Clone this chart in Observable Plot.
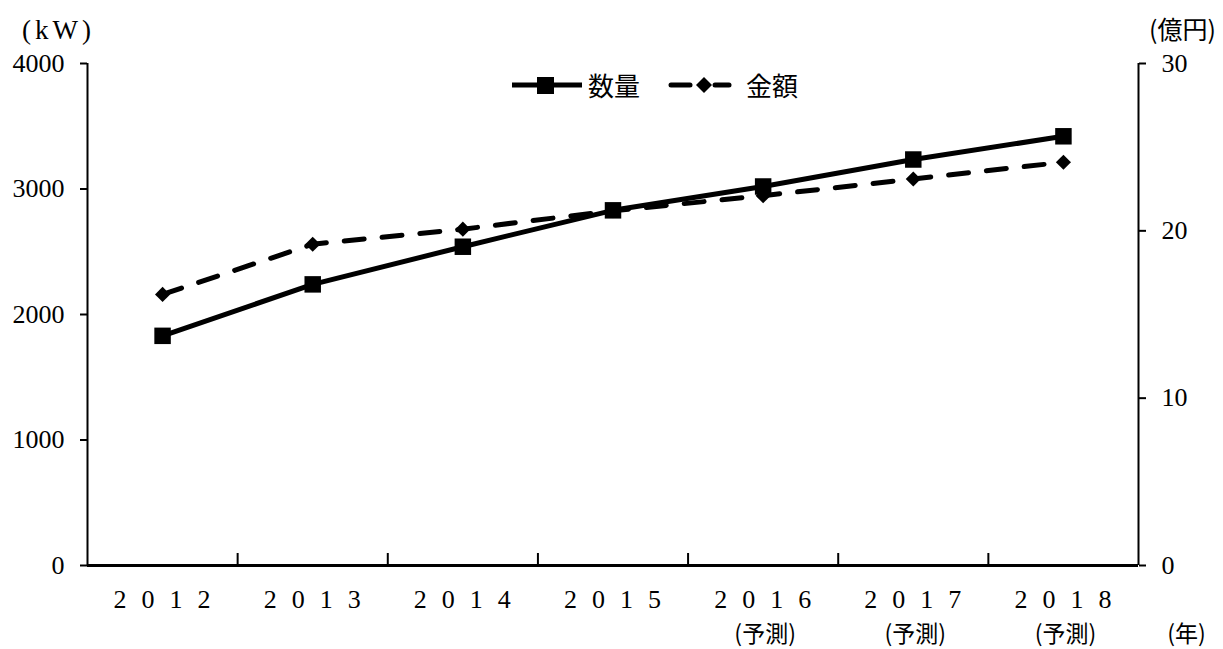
<!DOCTYPE html>
<html><head><meta charset="utf-8">
<script src="https://cdn.jsdelivr.net/npm/d3@7"></script>
<script src="https://cdn.jsdelivr.net/npm/@observablehq/plot@0.6"></script>
<style>
body{margin:0;background:#fff;}
#wrap{position:relative;width:1223px;height:649px;}
#legend{position:absolute;left:510px;top:70px;height:30px;display:flex;align-items:center;font-family:"Noto Sans CJK JP",sans-serif;font-size:26px;color:#000;line-height:30px;}
#legend svg{display:block;}
</style></head><body>
<div id="wrap"><div id="legend"></div></div>
<script>
// ---- data ----
const years = ["2012","2013","2014","2015","2016","2017","2018"];
const forecast = ["","","","","(予測)","(予測)","(予測)"];
const quantity = [1830,2240,2540,2830,3020,3235,3420]; // 数量 (kW)
const amount = [16.2,19.2,20.1,21.2,22.1,23.1,24.1];    // 金額 (億円)
const leftTicks = [0,1000,2000,3000,4000];
const rightTicks = [0,10,20,30];
const seriesNames = ["数量","金額"];
const leftUnit = "(kW)";
const rightUnit = "(億円)";
const xUnit = "(年)";

const kwMax = 4000, yenMax = 30;
const k = kwMax / yenMax;
const data = years.map((year,i)=>({year, pos:i+0.5, quantity:quantity[i], amountScaled:amount[i]*k, forecast:forecast[i]}));

const jp = "'Noto Sans CJK JP', sans-serif";
const chart = Plot.plot({
  width:1223, height:649,
  marginLeft:87, marginRight:85, marginTop:63, marginBottom:84,
  style:{fontFamily:"'Liberation Serif', serif", fontSize:"26px", color:"#000", background:"#fff", overflow:"visible"},
  x:{domain:[0,years.length], axis:null},
  y:{domain:[0,kwMax], axis:null},
  marks:[
    Plot.ruleX([0,years.length], {strokeWidth:2}),
    Plot.ruleY([0], {strokeWidth:3}),
    Plot.axisY(leftTicks, {anchor:"left", tickSize:7, tickPadding:16, tickFormat:d=>String(d), label:null, strokeWidth:2, fontSize:26}),
    Plot.axisY(rightTicks.map(d=>d*k), {anchor:"right", tickSize:7, tickPadding:16, tickFormat:d=>String(Math.round(d/k)), label:null, strokeWidth:2, fontSize:26}),
    Plot.axisX(d3.range(1,years.length), {anchor:"top", frameAnchor:"bottom", tickSize:13, fill:"none", label:null, strokeWidth:2}),
    Plot.line(data,{x:"pos", y:"amountScaled", stroke:"#000", strokeWidth:5, strokeDasharray:"20,18", strokeLinecap:"round"}),
    Plot.line(data,{x:"pos", y:"quantity", stroke:"#000", strokeWidth:5}),
    Plot.dot(data,{x:"pos", y:"amountScaled", symbol:"diamond2", r:6.8, fill:"#000", stroke:null}),
    Plot.dot(data,{x:"pos", y:"quantity", symbol:"square", r:9.3, fill:"#000", stroke:null}),
    Plot.text(data,{x:"pos", text:"year", frameAnchor:"bottom", lineAnchor:"middle", textAnchor:"middle", dy:34, dx:7, fontSize:26}),
    Plot.text(data,{x:"pos", text:"forecast", frameAnchor:"bottom", lineAnchor:"middle", textAnchor:"middle", dy:69, dx:2, fontSize:23, fontFamily:jp}),
    Plot.text([leftUnit], {text:d=>d, frameAnchor:"top-left", lineAnchor:"middle", textAnchor:"middle", dx:-31, dy:-33, fontSize:27}),
    Plot.text([rightUnit], {text:d=>d, frameAnchor:"top-right", lineAnchor:"middle", textAnchor:"middle", dx:44, dy:-33, fontSize:25, fontFamily:jp}),
    Plot.text([xUnit], {text:d=>d, frameAnchor:"bottom-right", lineAnchor:"middle", textAnchor:"middle", dx:48, dy:69, fontSize:23, fontFamily:jp})
  ]
});
// spacing in year labels and unit label
d3.select(chart).selectAll("text").filter(function(){return /^\d{4}$/.test(this.textContent) && !this.closest('[aria-label^="y-axis"]');}).attr("letter-spacing","15px");
d3.select(chart).selectAll("text").filter(function(){return this.textContent===leftUnit;}).attr("letter-spacing","4px").attr("dx","2");
document.getElementById("wrap").prepend(chart);

// legend
const lg = d3.select("#legend");
const s1 = lg.append("svg").attr("width",72).attr("height",30);
s1.append("line").attr("x1",2).attr("x2",72).attr("y1",15).attr("y2",15).attr("stroke","#000").attr("stroke-width",5);
s1.append("rect").attr("x",27).attr("y",7).attr("width",17).attr("height",17).attr("fill","#000");
lg.append("span").text(seriesNames[0]).style("margin-left","6px");
const s2 = lg.append("svg").attr("width",64).attr("height",30).style("margin-left","28px");
s2.append("line").attr("x1",3).attr("x2",22).attr("y1",15).attr("y2",15).attr("stroke","#000").attr("stroke-width",5).attr("stroke-linecap","round");
s2.append("line").attr("x1",47).attr("x2",61).attr("y1",15).attr("y2",15).attr("stroke","#000").attr("stroke-width",5).attr("stroke-linecap","round");
s2.append("path").attr("d","M36,7L44,15L36,23L28,15Z").attr("fill","#000");
lg.append("span").text(seriesNames[1]).style("margin-left","14px");
</script>
</body></html>
